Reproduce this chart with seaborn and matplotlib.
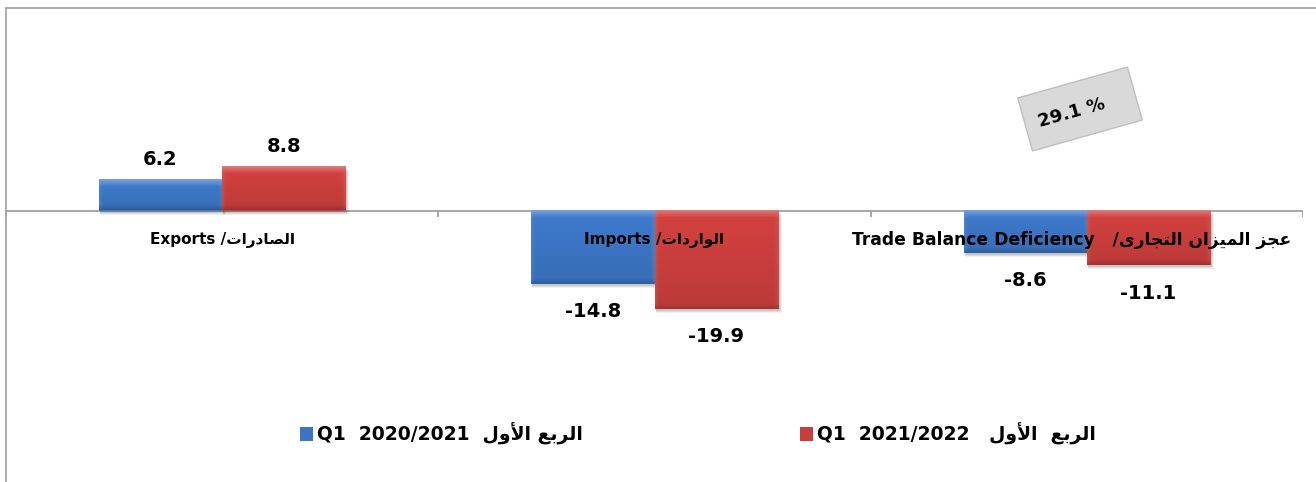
import numpy as np
import pandas as pd
import matplotlib
matplotlib.use("Agg")
import matplotlib.pyplot as plt
import matplotlib.transforms as mtransforms
from matplotlib.patches import Rectangle, Patch
from matplotlib.lines import Line2D
import seaborn as sns

# ---- data ----
categories_en = ["Exports", "Imports", "Trade Balance Deficiency"]
categories_ar = ["الصادرات", "الواردات", "عجز الميزان التجارى"]
periods_ar = ["الربع الأول", "الربع  الأول"]
periods = ["2020/2021", "2021/2022"]
q1_2020_2021 = [6.2, -14.8, -8.6]
q1_2021_2022 = [8.8, -19.9, -11.1]
deficit_change = "29.1 %"

# ---- Arabic shaping (matplotlib lays text out left-to-right without joining) ----
FORMS = {  # isolated, final, initial, medial
    "ا": (0xFE8D, 0xFE8E, None, None),
    "أ": (0xFE83, 0xFE84, None, None),
    "ب": (0xFE8F, 0xFE90, 0xFE91, 0xFE92),
    "ت": (0xFE95, 0xFE96, 0xFE97, 0xFE98),
    "ج": (0xFE9D, 0xFE9E, 0xFE9F, 0xFEA0),
    "د": (0xFEA9, 0xFEAA, None, None),
    "ر": (0xFEAD, 0xFEAE, None, None),
    "ز": (0xFEAF, 0xFEB0, None, None),
    "ص": (0xFEB9, 0xFEBA, 0xFEBB, 0xFEBC),
    "ع": (0xFEC9, 0xFECA, 0xFECB, 0xFECC),
    "ل": (0xFEDD, 0xFEDE, 0xFEDF, 0xFEE0),
    "م": (0xFEE1, 0xFEE2, 0xFEE3, 0xFEE4),
    "ن": (0xFEE5, 0xFEE6, 0xFEE7, 0xFEE8),
    "و": (0xFEED, 0xFEEE, None, None),
    "ى": (0xFEEF, 0xFEF0, 0xFBE8, 0xFBE9),
    "ي": (0xFEF1, 0xFEF2, 0xFEF3, 0xFEF4),
}
LAM_ALEF = {"ا": (0xFEFB, 0xFEFC), "أ": (0xFEF7, 0xFEF8)}


def _dual(ch):
    return ch in FORMS and FORMS[ch][2] is not None


def shape_word(word):
    out = []
    i, n = 0, len(word)
    while i < n:
        c = word[i]
        prev_joins = i > 0 and _dual(word[i - 1])
        if c == "ل" and i + 1 < n and word[i + 1] in LAM_ALEF:
            iso, fin = LAM_ALEF[word[i + 1]]
            out.append(chr(fin if prev_joins else iso))
            i += 2
            continue
        if c not in FORMS:
            out.append(c)
            i += 1
            continue
        iso, fin, ini, med = FORMS[c]
        next_joins = ini is not None and i + 1 < n and word[i + 1] in FORMS
        if prev_joins and next_joins:
            code = med
        elif prev_joins:
            code = fin
        elif next_joins:
            code = ini
        else:
            code = iso
        out.append(chr(code))
        i += 1
    return "".join(out)


def ar(text):
    return " ".join(shape_word(w) for w in text.split(" "))[::-1]


# ---- figure ----
W, H, DPI = 1316, 482, 100
sns.set_theme(style="white")
plt.rcParams["font.family"] = ["DejaVu Sans"]
plt.rcParams["font.weight"] = "bold"
plt.rcParams["text.color"] = "black"

fig = plt.figure(figsize=(W / DPI, H / DPI), dpi=DPI)
fig.patch.set_facecolor("white")

ax_left, ax_right = 6, 1303
ax_top, ax_bottom = 8, 482
zero_px = 210.5
px_per_unit = 4.95
ax = fig.add_axes([ax_left / W, 0, (ax_right - ax_left) / W, (ax_bottom - ax_top) / H])
ymax = (zero_px - ax_top) / px_per_unit
ymin = -(ax_bottom - zero_px) / px_per_unit

blue = "#3B74C2"
red = "#C83E3C"

df = pd.DataFrame({
    "category": categories_en * 2,
    "period": [periods[0]] * 3 + [periods[1]] * 3,
    "value": q1_2020_2021 + q1_2021_2022,
})

sns.barplot(data=df, x="category", y="value", hue="period", hue_order=periods,
            palette=[blue, red], width=0.57, saturation=1, legend=False,
            linewidth=0, ax=ax, zorder=3)

ax.set_xlim(-0.5, 2.5)
ax.set_ylim(ymin, ymax)
ax.axis("off")

# units per pixel
xu = 3.0 / (ax_right - ax_left)
yu = 1.0 / px_per_unit


def lighten(c, f):
    return c + (1 - c) * f


def bevel_image(color, wpx, hpx):
    c = np.array(matplotlib.colors.to_rgb(color))
    hpx, wpx = max(int(hpx), 2), max(int(wpx), 2)
    yy = np.arange(hpx)[:, None] * np.ones((1, wpx))
    xx = np.ones((hpx, 1)) * np.arange(wpx)[None, :]
    img = np.ones((hpx, wpx, 3)) * c
    # gentle body gradient
    t = yy / max(hpx - 1, 1)
    img = img * (1.06 - 0.12 * t)[..., None]
    img = np.clip(img, 0, 1)
    # top highlight
    top = np.clip(1 - yy / 7.0, 0, 1)[..., None]
    img = img * (1 - top * 0.6) + lighten(c, 0.5) * top * 0.6
    # side highlights
    side = np.clip(1 - np.minimum(xx, wpx - 1 - xx) / 4.0, 0, 1)[..., None]
    img = img * (1 - side * 0.25) + lighten(c, 0.3) * side * 0.25
    # bottom shade
    bot = np.clip(1 - (hpx - 1 - yy) / 5.0, 0, 1)[..., None]
    img = img * (1 - bot * 0.4) + (c * 0.6) * bot * 0.4
    return np.clip(img, 0, 1)


for bar in [p for p in ax.patches if isinstance(p, Rectangle) and p.get_width() > 0]:
    x0, y0 = bar.get_x(), bar.get_y()
    w, h = bar.get_width(), bar.get_height()
    lo, hi = min(y0, y0 + h), max(y0, y0 + h)
    color = bar.get_facecolor()
    # soft drop shadow
    for k, a in [(4, 0.06), (3, 0.08), (2, 0.10)]:
        ax.add_patch(Rectangle((x0 + 1 * xu, lo - k * yu), w + (k - 1) * xu, hi - lo,
                               facecolor="black", alpha=a, lw=0, zorder=2))
    img = bevel_image(color, w / xu, (hi - lo) / yu)
    ax.imshow(img, extent=[x0, x0 + w, lo, hi], origin="upper", aspect="auto",
              interpolation="bilinear", zorder=4)

ax.set_xlim(-0.5, 2.5)
ax.set_ylim(ymin, ymax)

# value labels
for cont in ax.containers:
    for bar, v in zip(cont.patches, cont.datavalues):
        xc = bar.get_x() + bar.get_width() / 2
        pos = v > 0
        ax.annotate(f"{v:.1f}", (xc, v), xytext=(0, 8 if pos else -13),
                    textcoords="offset points", ha="center",
                    va="bottom" if pos else "top", fontsize=14,
                    fontweight="bold", color="black", zorder=6)

# zero axis and category separators
ax.axhline(0, color="#A0A0A0", lw=1.3, zorder=1)
ax.vlines([-0.5, 0.5, 1.5, 2.5], -6 * yu, 0, color="#A0A0A0", lw=1.3, zorder=1)

# category labels
label_y = -(240 - zero_px) * yu
label_sizes = [11, 11, 12.3]
label_shift = [0, 0, -15 * xu]
for i, (en, a) in enumerate(zip(categories_en, categories_ar)):
    sep = "   /" if i == 2 else " /"
    ax.text(i + label_shift[i], label_y, en + sep + ar(a), ha="center", va="center",
            fontsize=label_sizes[i], fontweight="bold", color="black", zorder=7)

# legend
handles = [Patch(facecolor=blue, edgecolor="none"), Patch(facecolor=red, edgecolor="none")]
labels = [f"Q1  {periods[0]}  " + ar(periods_ar[0]), f"Q1  {periods[1]}   " + ar(periods_ar[1])]
leg = ax.legend(handles, labels, ncol=2, loc="center left",
                bbox_to_anchor=(300 / W, 1 - 434 / H), bbox_transform=fig.transFigure,
                frameon=False, fontsize=13.5, borderpad=0, borderaxespad=0,
                handlelength=0.7, handleheight=0.75, handletextpad=0.2, columnspacing=11.6)
for t in leg.get_texts():
    t.set_fontweight("bold")
    t.set_color("black")

# rotated callout box
cx, cy = 1080 / DPI, (H - 109) / DPI
bw, bh = 114 / DPI, 55 / DPI
rot = mtransforms.Affine2D().rotate_deg_around(cx, cy, 15.7) + fig.dpi_scale_trans
fig.add_artist(Rectangle((cx - bw / 2, cy - bh / 2), bw, bh, facecolor="#D9D9D9",
                         edgecolor="#BFBFBF", lw=1.0, transform=rot, zorder=8))
fig.text(1072 / W, 1 - 113 / H, deficit_change, rotation=15.7, ha="center", va="center",
         rotation_mode="anchor", fontsize=13, fontweight="bold", color="black", zorder=9)

# outer frame (top and left)
gray = "#A0A0A0"
fig.add_artist(Line2D([6 / W, 1], [1 - 8 / H, 1 - 8 / H], color=gray, lw=1.2,
                      transform=fig.transFigure))
fig.add_artist(Line2D([6 / W, 6 / W], [0, 1 - 8 / H], color=gray, lw=1.2,
                      transform=fig.transFigure))

fig.savefig("out.png", dpi=DPI, facecolor="white")
